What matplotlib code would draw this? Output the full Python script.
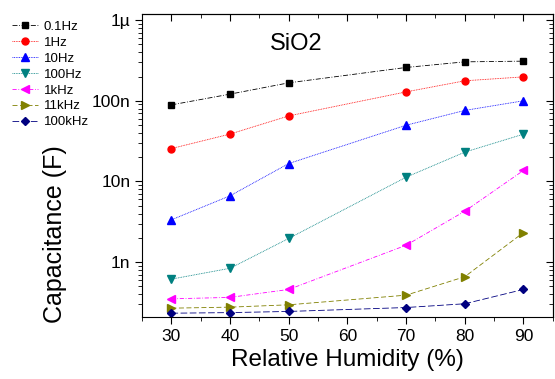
import numpy as np
import matplotlib
matplotlib.use("Agg")
import matplotlib.pyplot as plt
from matplotlib.ticker import FixedLocator, LogLocator, NullFormatter

plt.rcParams['font.family'] = ['Liberation Sans', 'DejaVu Sans']

rh = [30, 40, 50, 70, 80, 90]
labels = ['0.1Hz', '1Hz', '10Hz', '100Hz', '1kHz', '11kHz', '100kHz']
c_01hz  = [8.9e-8, 1.21e-7, 1.67e-7, 2.59e-7, 3.04e-7, 3.1e-7]
c_1hz   = [2.56e-8, 3.87e-8, 6.5e-8, 1.29e-7, 1.77e-7, 1.98e-7]
c_10hz  = [3.35e-9, 6.65e-9, 1.67e-8, 4.98e-8, 7.6e-8, 1.0e-7]
c_100hz = [6.16e-10, 8.4e-10, 1.97e-9, 1.13e-8, 2.31e-8, 3.86e-8]
c_1k    = [3.51e-10, 3.66e-10, 4.59e-10, 1.62e-9, 4.28e-9, 1.37e-8]
c_11k   = [2.69e-10, 2.77e-10, 2.96e-10, 3.9e-10, 6.6e-10, 2.33e-9]
c_100k  = [2.33e-10, 2.37e-10, 2.45e-10, 2.74e-10, 3.05e-10, 4.59e-10]
series = [c_01hz, c_1hz, c_10hz, c_100hz, c_1k, c_11k, c_100k]

colors  = ['black', 'red', 'blue', '#008080', 'magenta', '#808000', '#000080']
markers = ['s', 'o', '^', 'v', '<', '>', 'D']
styles  = [(0, (6, 2, 1, 2)), (0, (1, 1)), (0, (1, 1)), (0, (1, 1)),
           (0, (5, 2, 1, 2)), (0, (6, 3)), (0, (8, 3))]
msizes  = [4.3, 5, 5.3, 5.3, 5.3, 5.3, 4.3]

fig = plt.figure(figsize=(5.55, 3.79), dpi=100)
ax = fig.add_axes([0.256, 0.164, 0.74, 0.799])

for ys, lab, c, m, ls, ms in zip(series, labels, colors, markers, styles, msizes):
    ax.plot(rh, ys, color=c, marker=m, markersize=ms, linestyle=ls,
            linewidth=0.6, label=lab)

ax.set_yscale('log')
ax.set_xlim(25, 95)
ax.set_ylim(2.1e-10, 1.19e-6)
ax.set_xticks([30, 40, 50, 60, 70, 80, 90])
ax.xaxis.set_minor_locator(FixedLocator(np.arange(25, 96, 5)))
ax.set_yticks([1e-9, 1e-8, 1e-7, 1e-6])
ax.set_yticklabels(['1n', '10n', '100n', '1\u00b5'])
ax.yaxis.set_minor_locator(LogLocator(base=10, subs=np.arange(2, 10), numticks=20))
ax.yaxis.set_minor_formatter(NullFormatter())

ax.tick_params(axis='both', which='major', labelsize=12.5, length=5, width=0.8)
ax.tick_params(axis='both', which='minor', length=3, width=0.6)
ax.tick_params(axis='x', which='both', direction='out', top=False)
ax.tick_params(axis='y', which='both', direction='out', right=False)
sec_x = ax.secondary_xaxis('top')
sec_x.set_xticks([30, 40, 50, 60, 70, 80, 90])
sec_x.xaxis.set_minor_locator(FixedLocator(np.arange(25, 96, 5)))
sec_x.tick_params(which='major', direction='in', length=5, labeltop=False)
sec_x.tick_params(which='minor', direction='in', length=3)
sec_y = ax.secondary_yaxis('right')
sec_y.set_yticks([1e-9, 1e-8, 1e-7, 1e-6])
sec_y.yaxis.set_minor_locator(LogLocator(base=10, subs=np.arange(2, 10), numticks=20))
sec_y.yaxis.set_minor_formatter(NullFormatter())
sec_y.tick_params(which='major', direction='in', length=5, labelright=False)
sec_y.tick_params(which='minor', direction='in', length=3)

ax.set_xlabel('Relative Humidity (%)', fontsize=17.5)
ax.set_ylabel('Capacitance (F)', fontsize=18)
ax.yaxis.set_label_coords(-0.182, 0.274)
ax.text(0.311, 0.88, 'SiO2', transform=ax.transAxes, fontsize=17)

fig.legend(loc='upper left', bbox_to_anchor=(0.005, 0.97), frameon=False,
           fontsize=9.5, labelspacing=0.28, handlelength=2.0, handletextpad=0.4,
           borderaxespad=0.3)

fig.savefig('out.png', dpi=100)
